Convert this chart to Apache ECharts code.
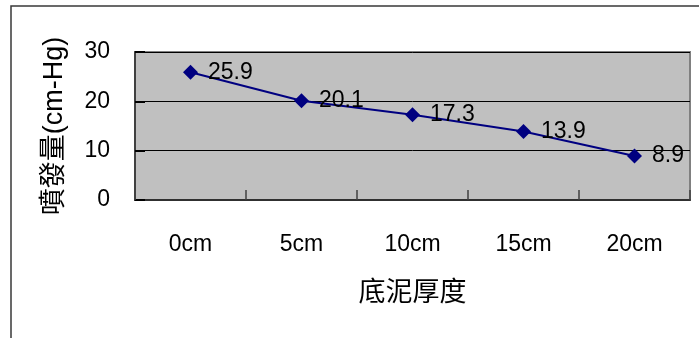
<!DOCTYPE html>
<html>
<head>
<meta charset="utf-8">
<script src="https://cdn.jsdelivr.net/npm/echarts@6/dist/echarts.min.js"></script>
<style>
  html, body { margin: 0; padding: 0; background: #fff; }
  #chart { width: 699px; height: 338px; }
</style>
</head>
<body>
<div id="chart"></div>
<script>
// Sediment thickness vs. eruption amount
const categories = ['0cm', '5cm', '10cm', '15cm', '20cm'];
const eruption = [25.9, 20.1, 17.3, 13.9, 8.9];
const yTicks = { min: 0, max: 30, interval: 10 };

const FONT = "'Liberation Sans', 'Noto Sans CJK TC', sans-serif";

const chart = echarts.init(document.getElementById('chart'), null, { renderer: 'canvas' });

chart.setOption({
  animation: false,
  backgroundColor: '#ffffff',
  textStyle: { fontFamily: FONT, color: '#000' },
  graphic: [{
    type: 'rect',
    shape: { x: 11, y: 6, width: 760, height: 400 },
    style: { fill: 'none', stroke: '#383838', lineWidth: 1.5 },
    silent: true,
    z: -1
  }],
  grid: {
    left: 135, right: 9, top: 52, bottom: 138,
    show: true,
    backgroundColor: '#c0c0c0',
    borderColor: '#808080',
    borderWidth: 2
  },
  xAxis: {
    type: 'category',
    data: categories,
    boundaryGap: true,
    name: '底泥厚度',
    nameLocation: 'middle',
    nameGap: 80,
    nameTextStyle: { fontSize: 27, color: '#000', fontFamily: FONT },
    axisLine: { show: true, lineStyle: { color: '#303030', width: 2 } },
    axisTick: { show: true, inside: true, length: 10, lineStyle: { color: '#404040', width: 1.5 } },
    axisLabel: { fontSize: 23, color: '#000', margin: 33, fontFamily: FONT },
    splitLine: { show: false }
  },
  yAxis: {
    type: 'value',
    min: yTicks.min,
    max: yTicks.max,
    interval: yTicks.interval,
    name: '噴發量(cm-Hg)',
    nameLocation: 'middle',
    nameRotate: 90,
    nameGap: 67,
    nameTextStyle: { fontSize: 27, color: '#000', fontFamily: FONT },
    axisLine: { show: true, lineStyle: { color: '#404040', width: 2 } },
    axisTick: { show: true, inside: true, length: 10, lineStyle: { color: '#000', width: 2 } },
    axisLabel: { fontSize: 23, color: '#000', margin: 25, fontFamily: FONT },
    splitLine: { show: true, lineStyle: { color: '#000', width: 1 } }
  },
  series: [{
    type: 'line',
    data: eruption,
    symbol: 'diamond',
    symbolSize: 15,
    itemStyle: { color: '#000080' },
    lineStyle: { color: '#000080', width: 2 },
    label: {
      show: true,
      position: 'right',
      distance: 10,
      fontSize: 23,
      color: '#000',
      fontFamily: FONT
    }
  }]
});
</script>
</body>
</html>
